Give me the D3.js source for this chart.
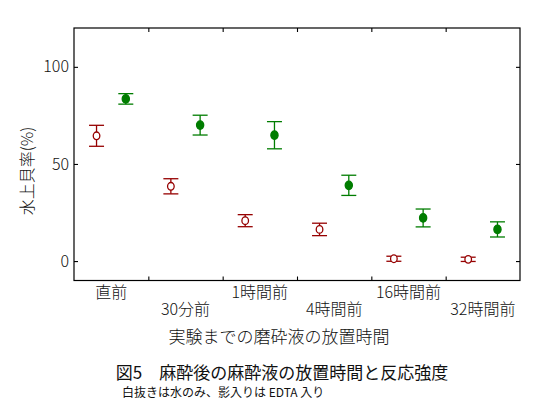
<!DOCTYPE html>
<html>
<head>
<meta charset="utf-8">
<script src="https://cdn.jsdelivr.net/npm/d3@7"></script>
<style>
  body { margin: 0; background: #fff; }
  text { font-family: "Noto Sans CJK JP", sans-serif; fill: #111; }
  .lite { font-weight: 300; }
</style>
</head>
<body>
<svg id="svg" width="547" height="420"></svg>
<script>
// data
var categories = ["直前", "30分前", "1時間前", "4時間前", "16時間前", "32時間前"];
var waterMean = [64.5, 38.5, 20.8, 16.3, 1.2, 0.9];   // 白抜き: water only
var waterErr  = [5.4, 3.9, 3.1, 3.2, 1.3, 1.1];
var edtaMean  = [83.5, 70.0, 64.8, 39.0, 22.2, 16.3]; // 影入り: with EDTA
var edtaErr   = [2.7, 5.1, 7.0, 5.2, 4.6, 3.9];
var yTicks = [0, 50, 100];

var rows = [];
for (let i = 0; i < categories.length; i++) {
    rows.push({cat: categories[i], grp: "water", v: waterMean[i], e: waterErr[i]});
    rows.push({cat: categories[i], grp: "edta",  v: edtaMean[i],  e: edtaErr[i]});
}

var svg = d3.select("#svg");
var plot = {left: 74, top: 28, right: 520, bottom: 280.5};
var red = "#960000", green = "#007d00";

var x = d3.scaleBand().domain(categories).range([plot.left, plot.right]);
var xSub = d3.scalePoint().domain(["water", "edta"]).range([0, x.bandwidth()]).padding(0.77);
var xEdge = d3.scaleLinear().domain([0, categories.length]).range([plot.left, plot.right]);
var y = d3.scaleLinear().domain([-10, 120]).range([plot.bottom, plot.top]);

// frame
svg.append("rect")
    .attr("x", plot.left).attr("y", plot.top)
    .attr("width", plot.right - plot.left).attr("height", plot.bottom - plot.top)
    .attr("fill", "none").attr("stroke", "#000").attr("stroke-width", 1.2);

// inner ticks, all four sides
var edges = d3.range(1, categories.length);
svg.append("g").attr("transform", "translate(0," + plot.bottom + ")")
    .call(d3.axisBottom(xEdge).tickValues(edges).tickSizeInner(-4).tickSizeOuter(0).tickFormat(""));
svg.append("g").attr("transform", "translate(0," + plot.top + ")")
    .call(d3.axisTop(xEdge).tickValues(edges).tickSizeInner(-4).tickSizeOuter(0).tickFormat(""));
svg.append("g").attr("transform", "translate(" + plot.right + ",0)")
    .call(d3.axisRight(y).tickValues(yTicks).tickSizeInner(-4).tickSizeOuter(0).tickFormat(""));
var yAxis = svg.append("g").attr("transform", "translate(" + plot.left + ",0)")
    .call(d3.axisLeft(y).tickValues(yTicks).tickSizeInner(-4).tickSizeOuter(0).tickPadding(5));
yAxis.selectAll("text").attr("class", "lite").style("font-size", "16px").attr("fill", "#111");

// category labels, staggered on two rows
var xAxis = svg.append("g").attr("transform", "translate(0," + plot.bottom + ")")
    .call(d3.axisBottom(x).tickSize(0).tickPadding(0));
xAxis.selectAll("text")
    .attr("class", "lite")
    .style("font-size", "16px").attr("fill", "#111")
    .attr("y", function(d, i) { return i % 2 === 0 ? 6 : 23; });

svg.selectAll(".domain").remove();
svg.selectAll(".tick line").attr("stroke", "#000").attr("stroke-width", 1.1);

// error bars
var bars = svg.append("g").selectAll("g").data(rows).enter().append("g")
    .attr("transform", function(d) { return "translate(" + (x(d.cat) + xSub(d.grp)) + ",0)"; })
    .attr("stroke", function(d) { return d.grp === "water" ? red : green; })
    .attr("stroke-width", 1.3);
bars.append("line")
    .attr("y1", function(d) { return y(d.v - d.e); })
    .attr("y2", function(d) { return y(d.v + d.e); });
bars.append("line").attr("x1", -7.5).attr("x2", 7.5)
    .attr("y1", function(d) { return y(d.v + d.e); })
    .attr("y2", function(d) { return y(d.v + d.e); });
bars.append("line").attr("x1", -7.5).attr("x2", 7.5)
    .attr("y1", function(d) { return y(d.v - d.e); })
    .attr("y2", function(d) { return y(d.v - d.e); });
bars.append("ellipse")
    .attr("cy", function(d) { return y(d.v); })
    .attr("rx", function(d) { return d.grp === "water" ? 3.3 : 3.6; })
    .attr("ry", function(d) { return d.grp === "water" ? 3.8 : 4.2; })
    .attr("fill", function(d) { return d.grp === "water" ? "#fff" : green; });

// titles
svg.append("text")
    .attr("class", "lite")
    .attr("transform", "translate(33," + 171 + ") rotate(-90)")
    .attr("text-anchor", "middle").style("font-size", "16px")
    .text("水上貝率(%)");
svg.append("text")
    .attr("class", "lite")
    .attr("x", 279).attr("y", 343)
    .attr("text-anchor", "middle").style("font-size", "17px")
    .text("実験までの磨砕液の放置時間");
svg.append("text")
    .attr("x", 282).attr("y", 379)
    .attr("text-anchor", "middle").style("font-size", "17px")
    .text("図5　麻酔後の麻酔液の放置時間と反応強度");
svg.append("text")
    .attr("x", 122).attr("y", 397)
    .style("font-size", "12px")
    .text("白抜きは水のみ、影入りは EDTA 入り");
</script>
</body>
</html>
